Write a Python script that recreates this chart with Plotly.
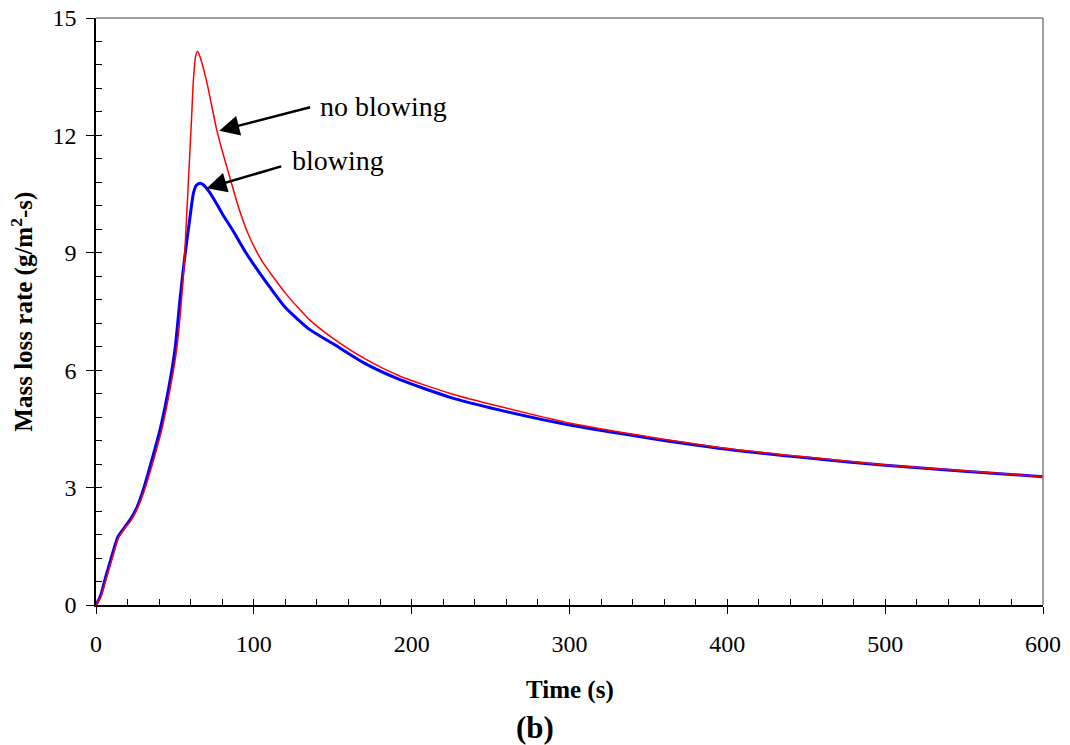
import plotly.graph_objects as go

# Data
t_noblow = [0, 3, 6, 10, 14, 18, 22, 26, 30, 35, 41.6, 46.8, 51.1, 54.2, 56, 57.5, 59, 60.5, 61.7, 63, 64.3, 66, 70, 76.5,
            80, 85, 90, 96, 105, 112, 120, 128, 135, 150, 170, 193, 225, 256, 300, 350, 400, 450, 500, 550, 600]
m_noblow = [0, 0.2, 0.6, 1.15, 1.7, 1.95, 2.15, 2.45, 2.85, 3.5, 4.47, 5.49, 6.52, 7.8, 8.82, 10.0, 11.2, 12.4, 13.4, 14.0, 14.15, 14.0, 13.4, 12.14,
            11.6, 10.9, 10.2, 9.52, 8.8, 8.4, 7.97, 7.6, 7.3, 6.82, 6.3, 5.84, 5.4, 5.07, 4.65, 4.3, 4.0, 3.78, 3.58, 3.43, 3.28]

t_blow = [0, 3, 6, 10, 14, 18, 22, 26, 30, 35, 40.5, 45.8, 50, 53.2, 56, 59.6, 61.7, 63.5, 65.9, 68, 71, 75, 80, 87, 95, 100,
          110, 120, 135, 150, 170, 193, 225, 256, 300, 350, 400, 450, 500, 550, 600]
m_blow = [0, 0.25, 0.7, 1.25, 1.75, 1.98, 2.2, 2.5, 2.95, 3.65, 4.47, 5.49, 6.52, 7.8, 8.82, 9.92, 10.52, 10.72, 10.78, 10.74, 10.6, 10.35, 10.0, 9.55, 9.0, 8.7,
          8.13, 7.6, 7.05, 6.68, 6.18, 5.75, 5.3, 4.98, 4.6, 4.27, 3.98, 3.76, 3.57, 3.42, 3.28]

x_ticks = [0, 100, 200, 300, 400, 500, 600]
y_ticks = [0, 3, 6, 9, 12, 15]

FONT = "Liberation Serif, Times New Roman, serif"

fig = go.Figure()
fig.add_trace(go.Scatter(x=t_blow, y=m_blow, mode="lines", name="blowing",
                         line=dict(color="#0000ff", width=3, shape="spline", smoothing=0.6)))
fig.add_trace(go.Scatter(x=t_noblow, y=m_noblow, mode="lines", name="no blowing",
                         line=dict(color="#ff0000", width=1.5, shape="spline", smoothing=0.6)))
# dummy trace to carry the inner-tick overlay axes
fig.add_trace(go.Scatter(x=[None], y=[None], xaxis="x2", yaxis="y2", showlegend=False, hoverinfo="skip"))

fig.update_layout(
    width=1070, height=745,
    margin=dict(l=96, r=27, t=18, b=140),
    paper_bgcolor="white", plot_bgcolor="white",
    showlegend=False,
    font=dict(family=FONT, size=24, color="black"),
    xaxis=dict(range=[0, 600], tickvals=x_ticks, ticks="outside", ticklen=7, tickcolor="black",
               showgrid=False, zeroline=False, showline=True, linecolor="black", linewidth=1.5,
               tickfont=dict(size=24, family=FONT), automargin=False, ticklabelstandoff=9),
    yaxis=dict(range=[0, 15], tickvals=y_ticks, ticks="outside", ticklen=8, tickcolor="black",
               showgrid=False, zeroline=False, showline=True, linecolor="black", linewidth=1.5,
               tickfont=dict(size=24, family=FONT), automargin=False, ticklabelstandoff=5),
    xaxis2=dict(range=[0, 600], overlaying="x", dtick=20, tick0=0, ticks="inside", ticklen=6,
                tickcolor="black", showticklabels=False, showgrid=False, zeroline=False, showline=False,
                automargin=False),
    yaxis2=dict(range=[0, 15], overlaying="y", dtick=0.6, tick0=0, ticks="inside", ticklen=6,
                tickcolor="black", showticklabels=False, showgrid=False, zeroline=False, showline=False,
                automargin=False),
)

# gray top/right frame
fig.add_shape(type="line", xref="paper", yref="paper", x0=0, x1=1, y0=1, y1=1, line=dict(color="#808080", width=1.5))
fig.add_shape(type="line", xref="paper", yref="paper", x0=1, x1=1, y0=0, y1=1, line=dict(color="#808080", width=1.5))

# axis titles
fig.add_annotation(x=-0.078, y=0.5, xref="paper", yref="paper", text="<b>Mass loss rate (g/m<sup>2</sup>-s)</b>",
                   showarrow=False, textangle=-90, xanchor="center", yanchor="middle",
                   font=dict(size=25, family=FONT))
fig.add_annotation(x=0.5, y=-0.1448, xref="paper", yref="paper", text="<b>Time (s)</b>",
                   showarrow=False, xanchor="center", yanchor="middle", font=dict(size=25, family=FONT))

# arrows
fig.add_annotation(x=78.1, y=12.12, ax=136.6, ay=12.73, axref="x", ayref="y", xref="x", yref="y",
                   text="", showarrow=True, arrowhead=2, arrowsize=1.6, arrowwidth=2.5, arrowcolor="black")
fig.add_annotation(x=70.1, y=10.65, ax=118.3, ay=11.22, axref="x", ayref="y", xref="x", yref="y",
                   text="", showarrow=True, arrowhead=2, arrowsize=1.6, arrowwidth=2.5, arrowcolor="black")
fig.add_annotation(x=140.6, y=12.73, xref="x", yref="y", text="no blowing", showarrow=False,
                   xanchor="left", yanchor="middle", font=dict(size=28, family=FONT))
fig.add_annotation(x=122.9, y=11.37, xref="x", yref="y", text="blowing", showarrow=False,
                   xanchor="left", yanchor="middle", font=dict(size=28, family=FONT))
# panel label
fig.add_annotation(x=0.4636, y=-0.2095, xref="paper", yref="paper", text="<b>(b)</b>", showarrow=False,
                   xanchor="center", yanchor="middle", font=dict(size=31, family=FONT))

fig.write_html("out.html")
